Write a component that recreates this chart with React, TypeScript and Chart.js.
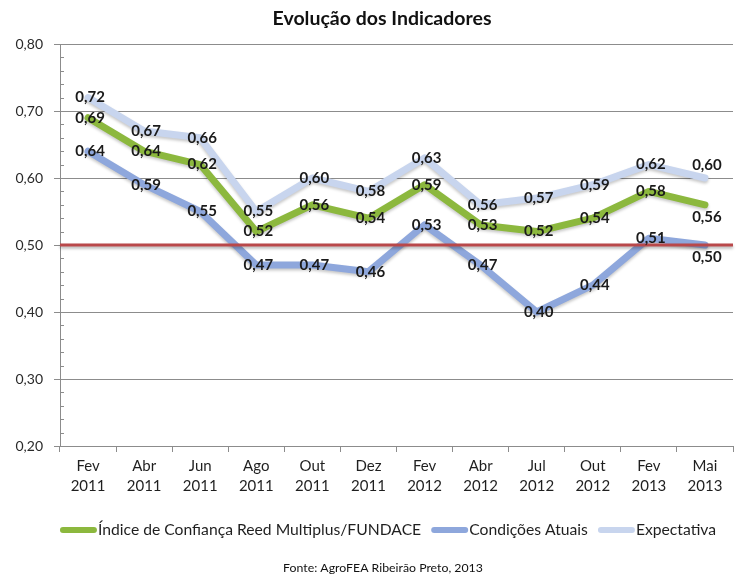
import React, { useEffect, useRef } from 'react';
import { Chart, registerables } from 'chart.js';

Chart.register(...registerables);

// Survey months (two-line labels: month / year)
const periods: string[][] = [
  ['Fev', '2011'], ['Abr', '2011'], ['Jun', '2011'], ['Ago', '2011'],
  ['Out', '2011'], ['Dez', '2011'], ['Fev', '2012'], ['Abr', '2012'],
  ['Jul', '2012'], ['Out', '2012'], ['Fev', '2013'], ['Mai', '2013'],
];

const indiceConfianca = [0.69, 0.64, 0.62, 0.52, 0.56, 0.54, 0.59, 0.53, 0.52, 0.54, 0.58, 0.56];
const condicoesAtuais = [0.64, 0.59, 0.55, 0.47, 0.47, 0.46, 0.53, 0.47, 0.40, 0.44, 0.51, 0.50];
const expectativa = [0.72, 0.67, 0.66, 0.55, 0.60, 0.58, 0.63, 0.56, 0.57, 0.59, 0.62, 0.60];

const seriesNames = ['Índice de Confiança Reed Multiplus/FUNDACE', 'Condições Atuais', 'Expectativa'];
const yTickValues = [0.2, 0.3, 0.4, 0.5, 0.6, 0.7, 0.8];
const neutralLevel = 0.5;

const titleText = 'Evolução dos Indicadores';
const sourceText = 'Fonte: AgroFEA Ribeirão Preto, 2013';

const FONT = 'Lato, "Open Sans", sans-serif';
const colors = ['#8cb83e', '#8ea7dc', '#c8d5ee'];
const refColor = '#b9484a';
const gridColor = '#8c8c8c';

// vertical nudge of a value label (px), by dataset then point; default is centred on the point
const labelShift: Record<string, number> = { '0-11': 12, '1-11': 12, '2-11': -13 };

const fmt = (v: number) => v.toFixed(2).replace('.', ',');

export default function App() {
  const canvasRef = useRef<HTMLCanvasElement | null>(null);

  useEffect(() => {
    document.body.style.margin = '0';
    const canvas = canvasRef.current;
    if (!canvas) return;

    const decorations = {
      id: 'decorations',
      beforeDatasetDraw(chart: any) {
        const ctx = chart.ctx;
        ctx.save();
        ctx.shadowColor = 'rgba(0,0,0,0.22)';
        ctx.shadowBlur = 3;
        ctx.shadowOffsetY = 2;
      },
      afterDatasetDraw(chart: any) {
        chart.ctx.restore();
      },
      afterDatasetsDraw(chart: any) {
        const { ctx, chartArea, scales } = chart;
        const y = scales.y;

        // minor tick marks on the value axis
        ctx.save();
        ctx.strokeStyle = gridColor;
        ctx.lineWidth = 1;
        const min = yTickValues[0];
        const max = yTickValues[yTickValues.length - 1];
        for (let i = 1; i < Math.round((max - min) / 0.02); i++) {
          if (i % 5 === 0) continue;
          const py = Math.round(y.getPixelForValue(min + i * 0.02)) + 0.5;
          ctx.beginPath();
          ctx.moveTo(chartArea.left, py);
          ctx.lineTo(chartArea.left + 4, py);
          ctx.stroke();
        }
        ctx.restore();

        // neutral level line
        const ry = y.getPixelForValue(neutralLevel);
        ctx.save();
        ctx.shadowColor = 'rgba(0,0,0,0.3)';
        ctx.shadowBlur = 3;
        ctx.shadowOffsetY = 2;
        ctx.strokeStyle = refColor;
        ctx.lineWidth = 3;
        ctx.beginPath();
        ctx.moveTo(chartArea.left, ry);
        ctx.lineTo(chartArea.right, ry);
        ctx.stroke();
        ctx.restore();

        // value labels
        ctx.save();
        ctx.font = `bold 15px ${FONT}`;
        ctx.fillStyle = '#1a1a1a';
        ctx.textAlign = 'center';
        ctx.textBaseline = 'middle';
        chart.data.datasets.forEach((ds: any, di: number) => {
          const meta = chart.getDatasetMeta(di);
          meta.data.forEach((pt: any, pi: number) => {
            const dy = labelShift[`${di}-${pi}`] || 0;
            ctx.fillText(fmt(ds.data[pi]), pt.x + 2, pt.y + dy);
          });
        });
        ctx.restore();
      },
      afterDraw(chart: any) {
        const ctx = chart.ctx;
        ctx.save();
        ctx.textBaseline = 'middle';
        ctx.fillStyle = '#111';

        // title
        ctx.textAlign = 'center';
        ctx.font = `bold 19.5px ${FONT}`;
        ctx.fillText(titleText, 382, 19);

        // legend: rounded line sample followed by the series name
        ctx.font = `15.7px ${FONT}`;
        ctx.textAlign = 'left';
        const sampleW = 37;
        const sampleH = 6;
        const textGap = 1;
        const itemGap = 10;
        const items = chart.data.datasets.map((ds: any, i: number) => ({
          text: ds.label as string,
          color: colors[i],
          w: sampleW + textGap + ctx.measureText(ds.label).width,
        }));
        const total = items.reduce((s: number, it: any) => s + it.w, 0) + itemGap * (items.length - 1);
        let x = 388 - total / 2;
        const ly = 530;
        items.forEach((it: any) => {
          ctx.fillStyle = it.color;
          ctx.beginPath();
          ctx.roundRect(x, ly - sampleH / 2, sampleW, sampleH, sampleH / 2);
          ctx.fill();
          ctx.fillStyle = '#1f1f1f';
          ctx.fillText(it.text, x + sampleW + textGap, ly);
          x += it.w + itemGap;
        });

        // source note
        ctx.textAlign = 'center';
        ctx.fillStyle = '#111';
        ctx.font = `12.3px ${FONT}`;
        ctx.fillText(sourceText, 383, 568);
        ctx.restore();
      },
    };

    const chart = new Chart(canvas, {
      type: 'line',
      data: {
        labels: periods,
        datasets: [indiceConfianca, condicoesAtuais, expectativa].map((d, i) => ({
          label: seriesNames[i],
          data: d,
          borderColor: colors[i],
          backgroundColor: colors[i],
          borderWidth: 7,
          borderCapStyle: 'round',
          borderJoinStyle: 'round',
          pointRadius: 0,
          pointHoverRadius: 0,
          tension: 0,
        })),
      },
      options: {
        animation: false,
        responsive: false,
        layout: { padding: { left: 0, right: 16, top: 44, bottom: 76 } },
        scales: {
          x: {
            offset: true,
            grid: {
              offset: true,
              drawOnChartArea: false,
              drawTicks: true,
              tickLength: 6,
              color: gridColor,
            },
            border: { color: gridColor },
            ticks: {
              color: '#1f1f1f',
              font: { family: FONT, size: 15, lineHeight: 1.33 },
              padding: 4,
              maxRotation: 0,
              autoSkip: false,
            },
            afterFit(scale: any) {
              scale.height = 60;
            },
          },
          y: {
            min: 0.2,
            max: 0.8,
            afterBuildTicks(scale: any) {
              scale.ticks = yTickValues.map((v) => ({ value: v }));
            },
            grid: { color: gridColor, tickLength: 6 },
            border: { color: gridColor },
            ticks: {
              color: '#2a2a2a',
              font: { family: FONT, size: 14 },
              padding: 11,
              callback: (v: any) => fmt(Number(v)),
            },
            afterFit(scale: any) {
              scale.width = 60;
            },
          },
        },
        plugins: {
          tooltip: { enabled: false },
          legend: { display: false },
        },
      },
      plugins: [decorations],
    } as any);

    return () => chart.destroy();
  }, []);

  return (
    <div style={{ width: 749, height: 582, background: '#fff' }}>
      <canvas ref={canvasRef} width={749} height={582} style={{ display: 'block' }} />
    </div>
  );
}
